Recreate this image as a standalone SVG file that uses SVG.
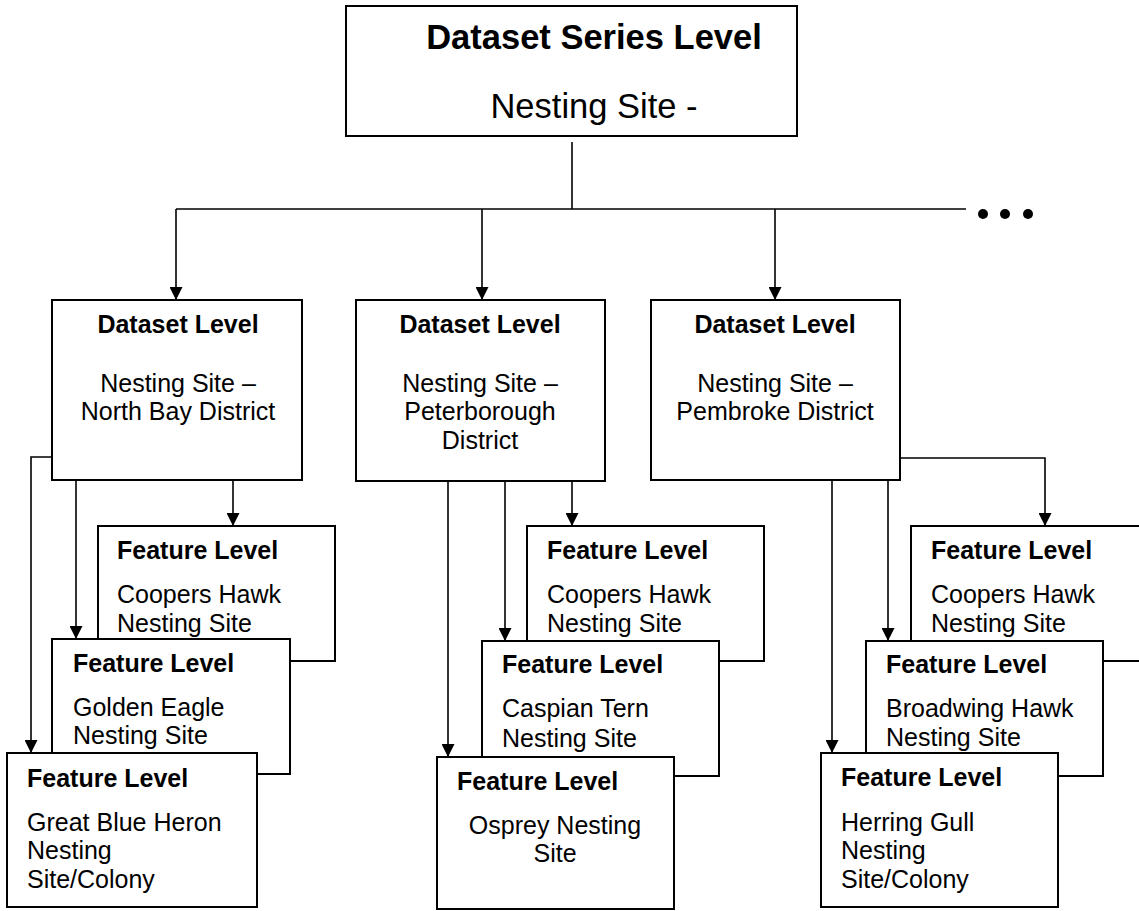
<svg xmlns="http://www.w3.org/2000/svg" width="1139" height="911" viewBox="0 0 1139 911">
<style>
.box{fill:#fff;stroke:#000;stroke-width:2}
.ln{fill:none;stroke:#000;stroke-width:1.6}
.arr{marker-end:url(#ah)}
text{font-family:"Liberation Sans",Arial,sans-serif;fill:#000}
.t{font-size:34.5px}
.s{font-size:25px}
.b{font-weight:bold}
.c{text-anchor:middle}
</style>
<defs>
<marker id="ah" viewBox="0 0 13 13" refX="13" refY="6.5" markerWidth="13" markerHeight="13" markerUnits="userSpaceOnUse" orient="auto">
<path d="M0,0 L13,6.5 L0,13 z" fill="#000"/>
</marker>
</defs>
<rect width="1139" height="911" fill="#fff"/>

<g id="connectors">
<path class="ln" d="M572,142 V209"/>
<path class="ln" d="M176,209 H966"/>
<path class="ln arr" d="M176,209 V300"/>
<path class="ln arr" d="M482,209 V300"/>
<path class="ln arr" d="M775,209 V300"/>
<circle cx="983" cy="214" r="5"/>
<circle cx="1005" cy="214" r="5"/>
<circle cx="1028" cy="214" r="5"/>
<!-- group 1 -->
<path class="ln arr" d="M52,457 H31 V753"/>
<path class="ln arr" d="M76,480 V639"/>
<path class="ln arr" d="M233,480 V526"/>
<!-- group 2 -->
<path class="ln arr" d="M448,481 V757"/>
<path class="ln arr" d="M505,481 V641"/>
<path class="ln arr" d="M572,481 V526"/>
<!-- group 3 -->
<path class="ln arr" d="M900,458 H1045 V526"/>
<path class="ln arr" d="M832,480 V753"/>
<path class="ln arr" d="M888,480 V641"/>
</g>

<g id="series">
<rect class="box" x="346" y="6" width="451" height="130"/>
<text class="t b c" x="594" y="49">Dataset Series Level</text>
<text class="t c" x="594" y="118">Nesting Site -</text>
</g>

<g id="dataset-northbay">
<rect class="box" x="52" y="300" width="250" height="180"/>
<text class="s b c" x="178" y="333">Dataset Level</text>
<text class="s c" x="178" y="392">Nesting Site –</text>
<text class="s c" x="178" y="420">North Bay District</text>
</g>

<g id="dataset-peterborough">
<rect class="box" x="356" y="300" width="249" height="181"/>
<text class="s b c" x="480" y="333">Dataset Level</text>
<text class="s c" x="480" y="392">Nesting Site –</text>
<text class="s c" x="480" y="420">Peterborough</text>
<text class="s c" x="480" y="449">District</text>
</g>

<g id="dataset-pembroke">
<rect class="box" x="651" y="300" width="249" height="180"/>
<text class="s b c" x="775" y="333">Dataset Level</text>
<text class="s c" x="775" y="392">Nesting Site –</text>
<text class="s c" x="775" y="420">Pembroke District</text>
</g>

<g id="feature-coopers-1">
<rect class="box" x="98" y="526" width="237" height="135"/>
<text class="s b" x="117" y="559">Feature Level</text>
<text class="s" x="117" y="603">Coopers Hawk</text>
<text class="s" x="117" y="632">Nesting Site</text>
</g>
<g id="feature-goldeneagle">
<rect class="box" x="52" y="639" width="238" height="135"/>
<text class="s b" x="73" y="672">Feature Level</text>
<text class="s" x="73" y="716">Golden Eagle</text>
<text class="s" x="73" y="744">Nesting Site</text>
</g>
<g id="feature-heron">
<rect class="box" x="7" y="753" width="250" height="154"/>
<text class="s b" x="27" y="787">Feature Level</text>
<text class="s" x="27" y="831">Great Blue Heron</text>
<text class="s" x="27" y="859">Nesting</text>
<text class="s" x="27" y="888">Site/Colony</text>
</g>

<g id="feature-coopers-2">
<rect class="box" x="527" y="526" width="237" height="135"/>
<text class="s b" x="547" y="559">Feature Level</text>
<text class="s" x="547" y="603">Coopers Hawk</text>
<text class="s" x="547" y="632">Nesting Site</text>
</g>
<g id="feature-caspian">
<rect class="box" x="482" y="641" width="237" height="135"/>
<text class="s b" x="502" y="673">Feature Level</text>
<text class="s" x="502" y="717">Caspian Tern</text>
<text class="s" x="502" y="747">Nesting Site</text>
</g>
<g id="feature-osprey">
<rect class="box" x="437" y="757" width="237" height="152"/>
<text class="s b" x="457" y="790">Feature Level</text>
<text class="s c" x="555" y="834">Osprey Nesting</text>
<text class="s c" x="555" y="862">Site</text>
</g>

<g id="feature-coopers-3">
<rect class="box" x="911" y="526" width="237" height="135"/>
<text class="s b" x="931" y="559">Feature Level</text>
<text class="s" x="931" y="603">Coopers Hawk</text>
<text class="s" x="931" y="632">Nesting Site</text>
</g>
<g id="feature-broadwing">
<rect class="box" x="866" y="641" width="237" height="135"/>
<text class="s b" x="886" y="673">Feature Level</text>
<text class="s" x="886" y="717">Broadwing Hawk</text>
<text class="s" x="886" y="746">Nesting Site</text>
</g>
<g id="feature-herring">
<rect class="box" x="821" y="753" width="237" height="154"/>
<text class="s b" x="841" y="786">Feature Level</text>
<text class="s" x="841" y="831">Herring Gull</text>
<text class="s" x="841" y="859">Nesting</text>
<text class="s" x="841" y="888">Site/Colony</text>
</g>
</svg>
